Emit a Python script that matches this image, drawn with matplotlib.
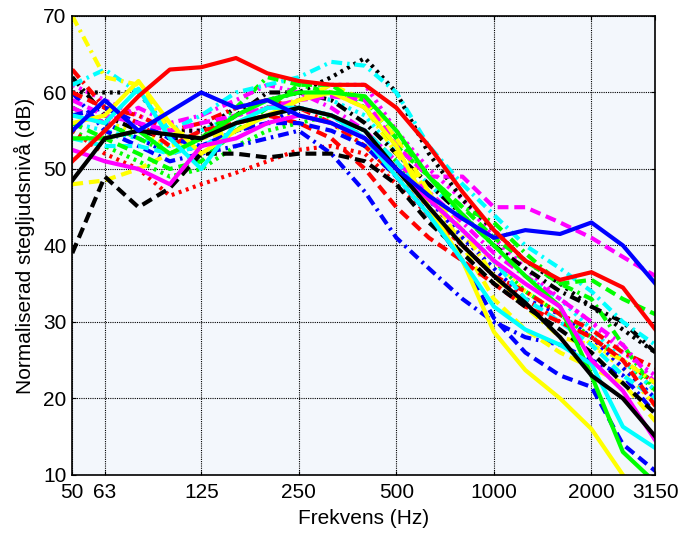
import matplotlib
matplotlib.use('Agg')
import matplotlib.pyplot as plt
from matplotlib.ticker import NullLocator, FixedLocator, FixedFormatter

plt.rcParams['font.family'] = ['Liberation Sans', 'DejaVu Sans']

freq = [50, 63, 80, 100, 125, 160, 200, 250, 315, 400, 500, 630, 800, 1000, 1250, 1600, 2000, 2500, 3150]

# solid lines
r_solid = [51, 55, 59.5, 63, 63.3, 64.5, 62.5, 61.5, 61, 61, 58, 53, 47, 42, 38, 35.5, 36.5, 34.5, 29]
b_solid = [55, 59, 55, 57.5, 60, 58, 59, 57, 56, 54, 50, 46.5, 43.5, 41, 42, 41.5, 43, 40, 35]
y_solid = [56, 57, 61.5, 56, 52, 55, 57, 59, 60, 58, 53, 45, 38, 28.7, 23.7, 20, 16, 10, 5]
g_solid = [54, 54, 55, 52, 54, 57, 59, 60, 60, 59.5, 55, 49, 44, 40, 36, 32, 23, 13, 9]
c_solid = [57, 56, 60.5, 54, 50, 56, 58, 58, 57, 54, 49, 44, 38, 32, 29, 27, 24.5, 16.3, 13.5]
m_solid = [52.5, 51, 50, 48, 53, 54, 56, 57, 56, 54, 50, 46, 42, 38, 35, 32, 25, 21, 14.5]
k_solid = [48.5, 54, 55, 54.5, 54, 56, 57, 58, 57, 55, 50, 45, 40, 36, 32.5, 28, 23, 20, 15]

# dashed lines
m_dash = [59, 57, 56, 55, 56, 57, 58, 59, 59.5, 59, 53, 49, 49, 45, 45, 43, 41, 38.5, 36]
k_dash = [39, 49, 45, 47.5, 52, 52, 51.5, 52, 52, 51, 48, 43, 39, 35, 32, 29, 26, 22, 18]
b_dash = [57, 58, 56, 54, 53, 55, 56, 56, 55, 53, 49, 44, 38, 30.5, 26, 23, 21.5, 14, 10.5]
r_dash = [60, 58, 56, 53, 55, 56, 57, 56, 54, 50, 45, 41, 38, 35, 32, 30, 28, 25, 19]
g_dash = [56, 54, 52, 50, 51, 55, 58, 61, 61, 58, 53, 49, 45, 41, 38, 35, 35.5, 33, 31]
y_dash = [48, 48.5, 50, 52, 54, 55, 57, 59, 61, 59, 54, 47, 40, 33, 29, 26, 24, 22, 17]
c_dash = [54, 53, 53, 52, 53, 55, 57, 58, 57, 55, 51, 46, 42, 38, 33, 30, 27, 23, 20]

# dash-dot lines
y_dd = [70, 62, 61, 55, 54, 56, 58, 59, 60, 58, 52, 47, 42, 36, 32, 28, 27, 25, 22]
c_dd = [61, 63, 60, 55, 57, 60, 61, 62, 64, 63.5, 60, 53, 48, 44, 40, 37, 34, 30, 27]
b_dd = [60, 55, 53, 51, 52, 53, 54, 55, 52, 47, 41, 37, 33, 30, 28, 27, 25, 23, 18]
g_dd = [58, 56, 54, 52, 54, 58, 62, 61, 60, 59, 54, 49, 45, 43, 39, 35, 33, 27, 21]
k_dd = [62, 57, 55, 54, 54, 57, 60, 60, 59, 56, 52, 48, 44, 40, 37, 34, 32, 30, 26]
r_dd = [63, 58, 57, 55, 56, 58, 59, 58, 56, 53, 49, 44, 40, 36, 34, 31, 29, 26, 24]
m_dd = [58, 56, 58, 56, 57, 59, 61, 60, 58, 55, 51, 47, 43, 39, 36, 33, 30, 27, 22]

# dotted lines
k_dot = [60, 60, 60, 55, 55, 58, 59, 60, 62, 64.5, 60, 52, 46, 42, 38, 35, 32, 29, 26]
r_dot = [55, 52, 50, 46.5, 48, 49.5, 51, 52.5, 53, 52, 48, 44, 40, 36, 33, 30, 28, 25, 22]
g_dot = [55, 53, 51, 49, 50, 53, 55, 56, 57, 55, 51, 46, 42, 38, 34, 31, 28, 25, 21]
b_dot = [58, 56, 54, 52, 53, 55, 56, 58, 57, 54, 50, 46, 41, 37, 33, 31, 28, 24, 20]
m_dot = [61, 59, 57, 55, 55, 57, 58, 59, 61, 61, 55, 50, 46, 41, 37, 33, 30, 26, 23]
c_dot = [56, 55, 54, 53, 55, 57, 59, 60, 59, 57, 52, 48, 44, 40, 36, 33, 29, 25, 21]
y_dot = [57, 56, 55, 53, 54, 56, 57, 57, 56, 53, 49, 45, 41, 38, 34, 31, 27, 24, 19]

xticks = [50, 63, 125, 250, 500, 1000, 2000, 3150]
yticks = [10, 20, 30, 40, 50, 60, 70]

Y, M, C, R, G, B, K = '#FFFF00', '#FF00FF', '#00FFFF', '#FF0000', '#00FF00', '#0000FF', '#000000'
SOLID = '-'
DASH = (0, (2.6, 1.4))
DDOT = (0, (2.6, 1.2, 0.6, 1.2))
DOT = (0, (0.7, 1.1))

series = [
    (g_dot, G, DOT), (c_dot, C, DOT), (y_dot, Y, DOT), (b_dot, B, DOT),
    (m_dot, M, DOT), (r_dot, R, DOT), (k_dot, K, DOT),
    (g_dd, G, DDOT), (b_dd, B, DDOT), (k_dd, K, DDOT), (r_dd, R, DDOT),
    (m_dd, M, DDOT), (c_dd, C, DDOT), (y_dd, Y, DDOT),
    (c_dash, C, DASH), (y_dash, Y, DASH), (r_dash, R, DASH), (g_dash, G, DASH),
    (b_dash, B, DASH), (k_dash, K, DASH), (m_dash, M, DASH),
    (y_solid, Y, SOLID), (g_solid, G, SOLID), (c_solid, C, SOLID), (m_solid, M, SOLID),
    (k_solid, K, SOLID), (b_solid, B, SOLID), (r_solid, R, SOLID),
]

fig = plt.figure(figsize=(6.82, 5.33), dpi=100)
ax = fig.add_axes([0.106, 0.109, 0.855, 0.861])
ax.set_facecolor('#F3F7FC')

for vals, col, ls in series:
    ax.plot(freq, vals, color=col, linestyle=ls, linewidth=3)

ax.set_xscale('log')
ax.set_xlim(50, 3150)
ax.set_ylim(10, 70)
ax.xaxis.set_major_locator(FixedLocator(xticks))
ax.xaxis.set_major_formatter(FixedFormatter([str(t) for t in xticks]))
ax.xaxis.set_minor_locator(NullLocator())
ax.set_yticks(yticks)
ax.tick_params(direction='in', length=3, width=0.8, labelsize=15, top=True, right=True)
ax.tick_params(axis='x', pad=6)
ax.tick_params(axis='y', pad=4)
ax.grid(True, color='black', linestyle=(0, (1, 1)), linewidth=0.8)
ax.set_axisbelow(True)
for s in ax.spines.values():
    s.set_linewidth(1.2)

ax.set_xlabel('Frekvens (Hz)', fontsize=15, labelpad=5)
ax.set_ylabel('Normaliserad stegljudsnivå (dB)', fontsize=15, labelpad=6)

fig.savefig('out.png', dpi=100, facecolor='white')
